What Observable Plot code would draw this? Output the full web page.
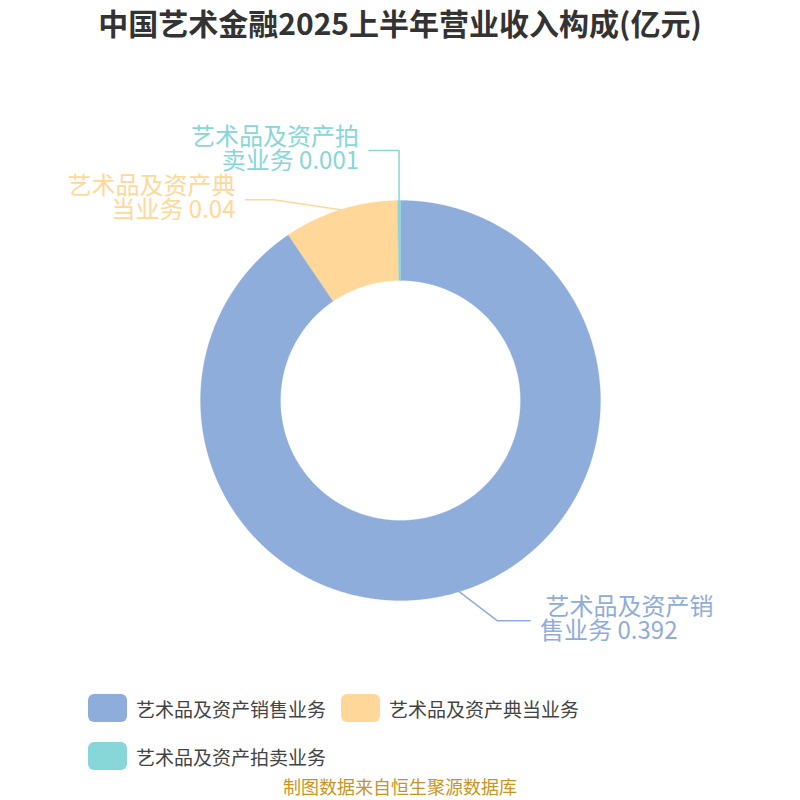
<!DOCTYPE html>
<html>
<head>
<meta charset="utf-8">
<script src="https://cdn.jsdelivr.net/npm/d3@7"></script>
<script src="https://cdn.jsdelivr.net/npm/@observablehq/plot@0.6"></script>
<style>
  html, body { margin: 0; padding: 0; background: #fff; }
  body { width: 800px; height: 800px; overflow: hidden; position: relative; font-family: "Noto Sans CJK SC", "Noto Sans", sans-serif; }
  #title { height: 44px; line-height: 44px; text-align: center; font-size: 30px; font-weight: bold; color: #333; white-space: nowrap; }
  #chart { height: 636px; }
  #legend { position: absolute; left: 0; top: 684px; width: 800px; }
  .row { display: flex; align-items: center; height: 48px; padding-left: 88px; }
  .item { display: flex; align-items: center; margin-right: 15px; }
  .sw { width: 39px; height: 28px; border-radius: 6px; margin-right: 9px; }
  .lt { font-size: 19px; color: #444; }
  #caption { position: absolute; left: 0; top: 776px; width: 800px; height: 20px; line-height: 20px; text-align: center; font-size: 18px; color: #c9951f; white-space: nowrap; }
</style>
</head>
<body>
<div id="title"></div>
<div id="chart"></div>
<div id="legend"></div>
<div id="caption"></div>
<script>
const titleText = "中国艺术金融2025上半年营业收入构成(亿元)";
const captionText = "制图数据来自恒生聚源数据库";
const categories = ["艺术品及资产销售业务", "艺术品及资产典当业务", "艺术品及资产拍卖业务"];
const values = [0.392, 0.04, 0.001];
const valueLabels = ["0.392", "0.04", "0.001"];
const colors = ["#8FADDA", "#FFD899", "#87D6D8"];

document.getElementById("title").textContent = titleText;
document.getElementById("caption").textContent = captionText;

// legend
const legend = document.getElementById("legend");
const rows = [[0, 1], [2]];
rows.forEach(r => {
  const row = document.createElement("div");
  row.className = "row";
  r.forEach(i => {
    const it = document.createElement("div");
    it.className = "item";
    const sw = document.createElement("div");
    sw.className = "sw";
    sw.style.background = colors[i];
    const t = document.createElement("span");
    t.className = "lt";
    t.textContent = categories[i];
    it.appendChild(sw); it.appendChild(t);
    row.appendChild(it);
  });
  legend.appendChild(row);
});

// donut geometry
const R_OUT = 200, R_IN = 120;
const arcs = d3.pie().sort(null).value(d => d)(values);

function slicePoints(a0, a1) {
  const n = Math.max(2, Math.ceil((a1 - a0) / 0.005));
  const pts = [];
  for (let i = 0; i <= n; i++) {
    const a = a0 + (a1 - a0) * i / n;
    pts.push({x: R_OUT * Math.sin(a), y: -R_OUT * Math.cos(a)});
  }
  for (let i = n; i >= 0; i--) {
    const a = a0 + (a1 - a0) * i / n;
    pts.push({x: R_IN * Math.sin(a), y: -R_IN * Math.cos(a)});
  }
  return pts;
}

// label layout (offsets from the arc edge at the slice mid-angle)
const layout = [
  {dx: 38, dy: 29, len: 33, side: 1},
  {dx: -67, dy: -10, len: -28, side: -1},
  {dx: 0, dy: -50, len: -30, side: -1}
];

const leaderMarks = [];
const labelData = [];
arcs.forEach((a, i) => {
  const m = (a.startAngle + a.endAngle) / 2;
  const sx = R_OUT * Math.sin(m), sy = -R_OUT * Math.cos(m);
  const L = layout[i];
  const ex = sx + L.dx, ey = sy + L.dy;
  const fx = ex + L.len;
  leaderMarks.push(Plot.line([{x: sx, y: sy}, {x: ex, y: ey}, {x: fx, y: ey}],
    {x: "x", y: "y", stroke: colors[i], strokeWidth: 1.5}));
  const name = categories[i];
  const first = name.slice(0, 7), rest = name.slice(7);
  const text = (L.side > 0 ? " " : "") + first + "\n" + rest + " " + valueLabels[i];
  labelData.push({x: fx + L.side * 10, y: ey - 1.5, text, color: colors[i], anchor: L.side > 0 ? "start" : "end"});
});

const sliceMarks = arcs.map((a, i) =>
  Plot.line(slicePoints(a.startAngle, a.endAngle),
    {x: "x", y: "y", fill: colors[i], stroke: colors[i], strokeWidth: 0.3, curve: "linear-closed"}));

const textMarks = labelData.map(d =>
  Plot.text([d], {x: "x", y: "y", text: "text", fill: d.color, textAnchor: d.anchor,
    fontSize: 24, lineHeight: 1.01}));

const plot = Plot.plot({
  width: 800,
  height: 636,
  margin: 0,
  x: {domain: [-400, 400], range: [0, 800], axis: null},
  y: {domain: [-356, 280], range: [0, 636], axis: null},
  style: {fontFamily: '"Noto Sans CJK SC", "Noto Sans", sans-serif', background: "#fff", overflow: "visible"},
  marks: [...sliceMarks, ...leaderMarks, ...textMarks]
});
document.getElementById("chart").appendChild(plot);
</script>
</body>
</html>
